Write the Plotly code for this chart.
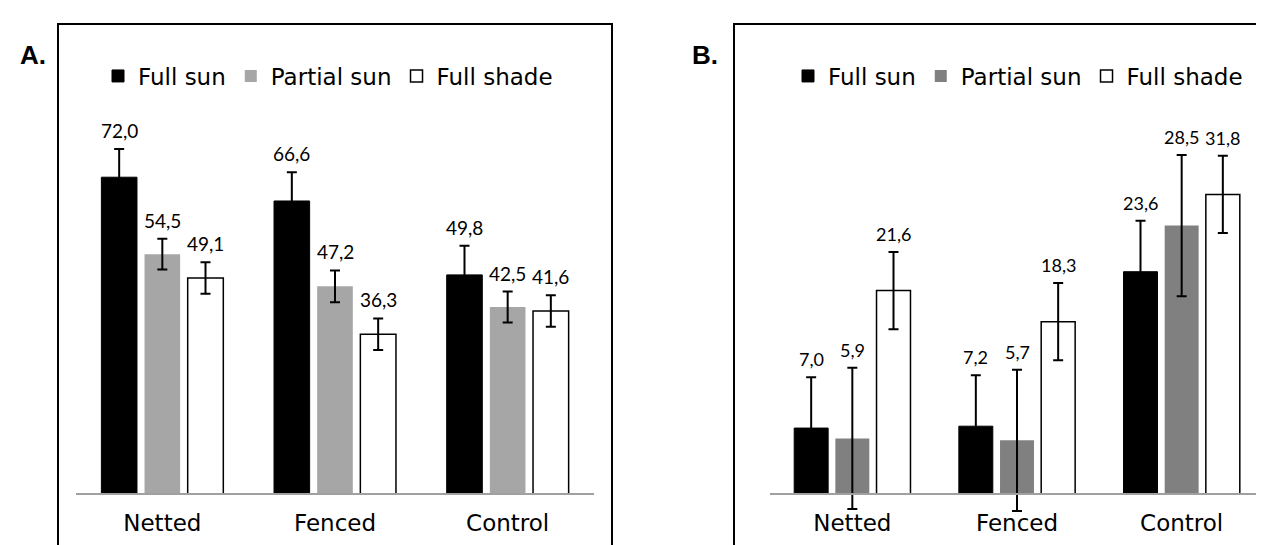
import plotly.graph_objects as go

# ---------------- data ----------------
categories = ["Netted", "Fenced", "Control"]
series_names = ["Full sun", "Partial sun", "Full shade"]

# Panel A
a_full_sun = [72.0, 66.6, 49.8]
a_partial_sun = [54.5, 47.2, 42.5]
a_full_shade = [49.1, 36.3, 41.6]
a_err_full_sun = [6.4, 6.5, 6.6]
a_err_partial_sun = [3.5, 3.6, 3.5]
a_err_full_shade = [3.6, 3.6, 3.6]

# Panel B
b_full_sun = [7.0, 7.2, 23.6]
b_partial_sun = [5.9, 5.7, 28.5]
b_full_shade = [21.6, 18.3, 31.8]
b_err_full_sun = [5.4, 5.4, 5.4]
b_err_partial_sun = [7.5, 7.5, 7.5]
b_err_full_shade = [4.1, 4.1, 4.1]

# ---------------- style ----------------
W, H = 1264, 545
BARGAP = 0.25
BARGROUPGAP = 0.175
AXIS_GRAY = "#A0A0A0"
FONT_MAIN = "DejaVu Sans"
FONT_LABEL = "Lato"

panels = [
    dict(xa="x", ya="y", legend="legend",
         values=[a_full_sun, a_partial_sun, a_full_shade],
         errs=[a_err_full_sun, a_err_partial_sun, a_err_full_shade],
         colors=["#000000", "#A6A6A6", "#FFFFFF"], label_size=19),
    dict(xa="x2", ya="y2", legend="legend2",
         values=[b_full_sun, b_partial_sun, b_full_shade],
         errs=[b_err_full_sun, b_err_partial_sun, b_err_full_shade],
         colors=["#000000", "#808080", "#FFFFFF"], label_size=18),
]
line_widths = [1, 0, 1.5]

fig = go.Figure()
annotations = []
slot = (1 - BARGAP) / 3

for p in panels:
    for j, name in enumerate(series_names):
        vals = p["values"][j]
        errs = p["errs"][j]
        fig.add_trace(go.Bar(
            x=categories, y=vals, name=name,
            xaxis=p["xa"], yaxis=p["ya"], legend=p["legend"],
            marker=dict(color=p["colors"][j],
                        line=dict(color="#000000", width=line_widths[j])),
            error_y=dict(type="data", array=errs, visible=True,
                         color="#000000", thickness=2, width=5),
            hoverinfo="skip",
        ))
        for i, (v, e) in enumerate(zip(vals, errs)):
            annotations.append(dict(
                x=i + (j - 1) * slot, y=v + e,
                xref=p["xa"], yref=p["ya"],
                text=f"{v:.1f}".replace(".", ","),
                showarrow=False, yanchor="bottom", yshift=5,
                font=dict(family=FONT_LABEL, size=p["label_size"], color="#000000"),
            ))

# panel letters
for letter, cx in (("A.", 25), ("B.", 697)):
    annotations.append(dict(x=cx / W, y=1 - 47 / H, xref="paper", yref="paper",
                            xanchor="center", yanchor="middle",
                            text=f"<b>{letter}</b>", showarrow=False,
                            font=dict(family="Liberation Sans", size=26, color="#000")))

base_frac = (H - 486) / H
dom_top = (H - 100) / H

xaxis_common = dict(type="category", showgrid=False, zeroline=False,
                    showline=True, linecolor=AXIS_GRAY, linewidth=2,
                    ticks="", anchor="free", position=base_frac,
                    tickfont=dict(family=FONT_MAIN, size=23, color="#000"),
                    ticklabelstandoff=8, range=[-0.5, 2.5])
yaxis_common = dict(visible=False, showgrid=False, zeroline=False,
                    domain=[0, dom_top])

legend_common = dict(orientation="h", xanchor="center",
                     y=1 - 68 / H, yanchor="middle",
                     font=dict(family=FONT_MAIN, size=23, color="#000"),
                     bgcolor="rgba(0,0,0,0)", traceorder="normal")

fig.update_layout(
    width=W, height=H,
    margin=dict(l=0, r=0, t=0, b=0),
    paper_bgcolor="white", plot_bgcolor="rgba(0,0,0,0)",
    barmode="group", bargap=BARGAP, bargroupgap=BARGROUPGAP,
    showlegend=True,
    xaxis=dict(domain=[68 / W, 586 / W], **xaxis_common),
    xaxis2=dict(domain=[762 / W, 1256 / W], **xaxis_common),
    yaxis=dict(range=[-13.41, 87.73], **yaxis_common),
    yaxis2=dict(range=[-6.263, 40.98], **yaxis_common),
    legend=dict(x=320 / W, **legend_common),
    legend2=dict(x=1010 / W, **legend_common),
    annotations=annotations,
    shapes=[
        dict(type="rect", xref="paper", yref="paper",
             x0=50 / W, x1=604 / W, y0=-0.2, y1=1 - 16 / H,
             line=dict(color="#000", width=2), layer="above"),
        dict(type="rect", xref="paper", yref="paper",
             x0=726 / W, x1=1.2, y0=-0.2, y1=1 - 16 / H,
             line=dict(color="#000", width=2), layer="above"),
    ],
)

fig.write_html("out.html")
